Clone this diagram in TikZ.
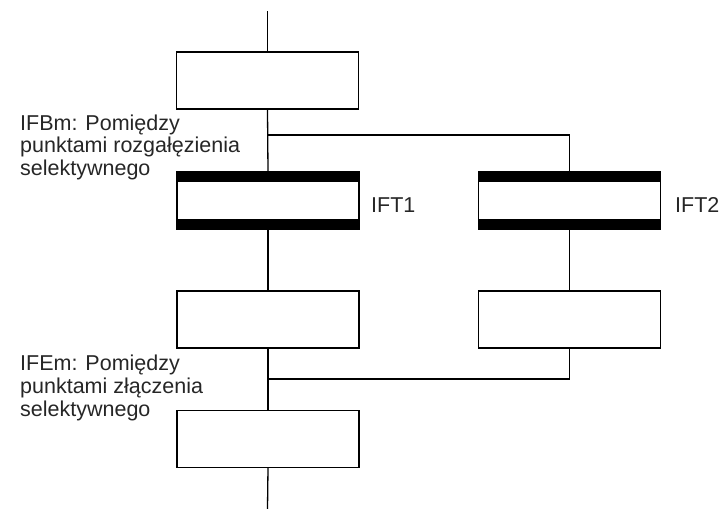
\documentclass[tikz,border=0pt]{standalone}
\usepackage{fontspec}
\setmainfont{Liberation Sans}
\begin{document}
\begin{tikzpicture}[x=1pt,y=-1pt,
  stepbox/.style={draw, line width=1.3pt, rectangle, minimum width=182pt, minimum height=57pt, inner sep=0pt},
  transbox/.style={stepbox, path picture={
      \fill ([yshift=1pt]path picture bounding box.north west) rectangle ([yshift=-10pt]path picture bounding box.north east);
      \fill ([yshift=-1pt]path picture bounding box.south west) rectangle ([yshift=10pt]path picture bounding box.south east);}},
  wire/.style={line width=1.3pt},
  lbl/.style={font=\fontsize{21.5}{22.7}\selectfont, text=black!85, inner sep=0pt, align=left, anchor=base west}]
\useasboundingbox (0,0) rectangle (724,509);

% steps and transitions
\node[stepbox]  (s1)  at (267.5,80.5)  {};
\node[transbox] (t1)  at (268,200.5)   {};
\node[transbox] (t2)  at (569.5,200.5) {};
\node[stepbox]  (s2)  at (268,319.5)   {};
\node[stepbox]  (s2r) at (569.5,319.5) {};
\node[stepbox]  (s3)  at (268,439)     {};

% branch and join points
\coordinate (top) at (267.5,11);
\coordinate (bot) at (267.5,509);
\coordinate (split) at (267.5,135);
\coordinate (merge) at (267.5,379);

% connectors
\draw[wire] (top) -- (s1.north);
\draw[wire] (s1.south) -- (t1.north);
\draw[wire] (split) -| (t2.north);
\draw[wire] (t1.south) -- (s2.north);
\draw[wire] (t2.south) -- (s2r.north);
\draw[wire] (s2.south) -- (s3.north);
\draw[wire] (s2r.south) |- (merge);
\draw[wire] (s3.south) -- (bot);

% labels (base anchor sits on the last line)
\node[lbl] (lb) at (20,175.5) {IFBm: Pomiędzy\\punktami rozgałęzienia\\selektywnego};
\node[lbl] (le) at (20,416) {IFEm: Pomiędzy\\punktami złączenia\\selektywnego};
\node[lbl] (l1) at (371,212) {IFT1};
\node[lbl] (l2) at (675,212) {IFT2};
\end{tikzpicture}
\end{document}
